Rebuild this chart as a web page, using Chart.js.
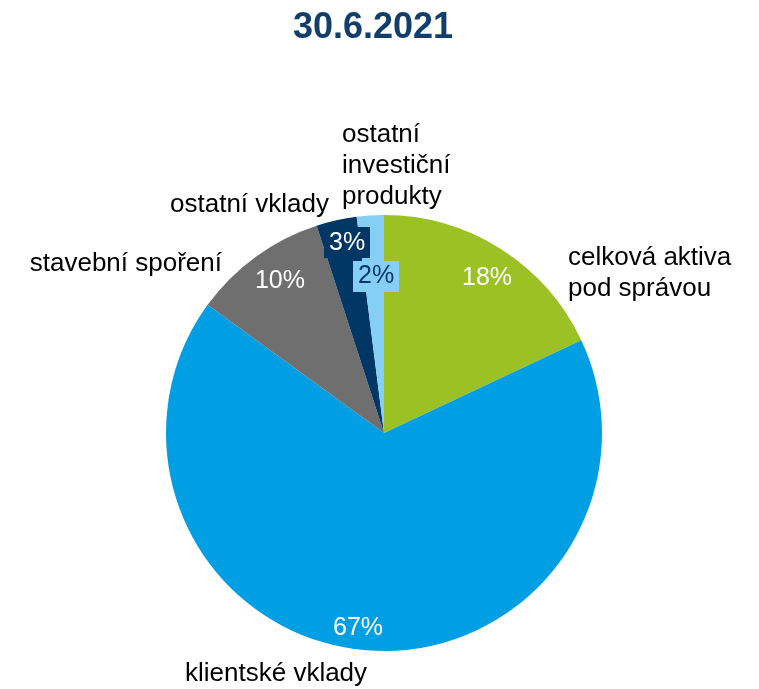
<!DOCTYPE html>
<html lang="cs">
<head>
<meta charset="utf-8">
<title>30.6.2021</title>
<script src="https://cdn.jsdelivr.net/npm/chart.js@4/dist/chart.umd.min.js"></script>
<style>
  html, body { margin: 0; padding: 0; background: #fff; }
  .wrap { position: relative; width: 759px; height: 689px; }
</style>
</head>
<body>
<div class="wrap"><canvas id="pie"></canvas></div>
<script>
const title = "30.6.2021";
const categories = [
  ["celková aktiva", "pod správou"],
  ["klientské vklady"],
  ["stavební spoření"],
  ["ostatní vklady"],
  ["ostatní", "investiční", "produkty"]
];
const shares = [18, 67, 10, 3, 2];
const colors = ["#9bc125", "#009fe3", "#6f6f6f", "#003764", "#84cff3"];

const FONT = "'Liberation Sans', Arial, sans-serif";

// value labels inside the slices: radius fraction, angle nudge (deg), boxed or not
const valueLabels = [
  { f: 0.854, nudge: 1.2, color: "#fff" },
  { f: 0.902, nudge: 2.2, color: "#fff" },
  { f: 0.845, nudge: 1.6, color: "#fff" },
  { f: 0.888, nudge: 1.6, color: "#fff", box: "#003764" },
  { f: 0.721, nudge: 0.7, color: "#003764", box: "#84cff3" }
];

// category labels around the pie, offsets from the pie centre
const outerLabels = [
  { dx: 184, dy: -168, align: "left" },
  { dx: -199, dy: 248, align: "left" },
  { dx: -162, dy: -162, align: "right" },
  { dx: -55, dy: -221, align: "right" },
  { dx: -42, dy: -291, align: "left" }
];

const piePlugin = {
  id: "pieText",
  afterDatasetsDraw(chart) {
    const ctx = chart.ctx;
    const arcs = chart.getDatasetMeta(0).data;
    ctx.save();

    // title
    ctx.fillStyle = "#113e6b";
    ctx.font = "bold 36px " + FONT;
    ctx.textAlign = "center";
    ctx.textBaseline = "alphabetic";
    ctx.fillText(title, 373, 38);

    // percentages
    ctx.font = "25px " + FONT;
    ctx.textBaseline = "middle";
    arcs.forEach((arc, i) => {
      const o = valueLabels[i];
      const mid = (arc.startAngle + arc.endAngle) / 2 + o.nudge * Math.PI / 180;
      const r = arc.outerRadius * o.f;
      const x = arc.x + Math.cos(mid) * r;
      const y = arc.y + Math.sin(mid) * r;
      const txt = Math.round(shares[i]) + "%";
      if (o.box) {
        const w = ctx.measureText(txt).width + 10;
        ctx.fillStyle = o.box;
        ctx.fillRect(Math.round(x - w / 2), Math.round(y - 15.5), Math.round(w), 31);
      }
      ctx.fillStyle = o.color;
      ctx.textAlign = "center";
      ctx.fillText(txt, x, y);
    });

    // category names
    ctx.font = "26px " + FONT;
    ctx.textBaseline = "alphabetic";
    ctx.fillStyle = "#000";
    const cx = arcs[0].x, cy = arcs[0].y;
    categories.forEach((lines, i) => {
      const o = outerLabels[i];
      ctx.textAlign = o.align;
      lines.forEach((line, j) => {
        ctx.fillText(line, cx + o.dx, cy + o.dy + j * 31);
      });
    });

    ctx.restore();
  }
};

new Chart(document.getElementById("pie"), {
  type: "pie",
  data: {
    labels: categories.map(c => c.join(" ")),
    datasets: [{
      data: shares,
      backgroundColor: colors,
      borderWidth: 0
    }]
  },
  options: {
    responsive: true,
    maintainAspectRatio: false,
    animation: false,
    layout: { padding: { left: 166, right: 157, top: 215, bottom: 38 } },
    plugins: {
      legend: { display: false },
      tooltip: { enabled: false },
      title: { display: false }
    }
  },
  plugins: [piePlugin]
});
</script>
</body>
</html>
